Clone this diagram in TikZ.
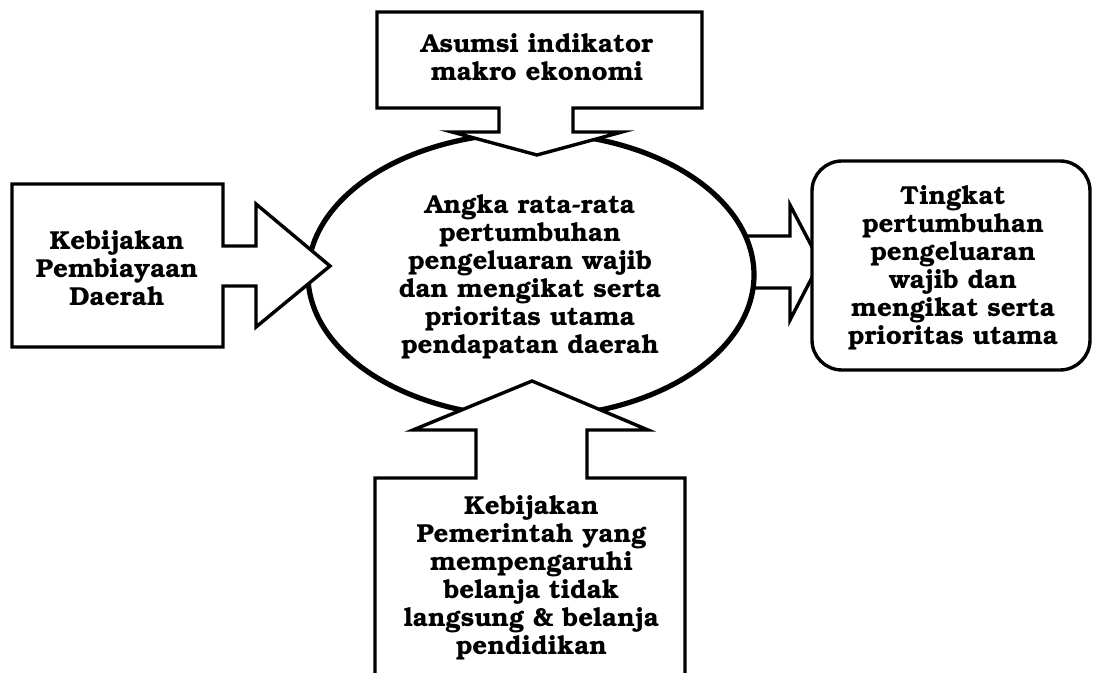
\documentclass[tikz,border=0pt]{standalone}
\usepackage[T1]{fontenc}
\usepackage{bookman}
\usetikzlibrary{shapes.geometric}
\begin{document}
\begin{tikzpicture}[x=0.5pt,y=-0.5pt,
  boxline/.style={draw=black,line width=1.7pt,fill=white,line join=miter},
  ellline/.style={draw=black,line width=2.6pt,fill=white},
  txt/.style={font=\fontsize{13}{14}\selectfont\bfseries,align=center,inner sep=0pt}]
\useasboundingbox (0,0) rectangle (1093,673);
% right outgoing arrow (under the ellipse)
\draw[boxline] (730,236) -- (790,236) -- (790,205) -- (820,262) -- (790,320) -- (790,288) -- (730,288) -- cycle;
% ellipse
\node[ellipse,ellline,minimum width=223pt,minimum height=142pt,inner sep=0pt] (ell) at (531,275) {};
% top callout
\draw[boxline] (377,12) -- (702,12) -- (702,108) -- (573,108) -- (573,132) -- (622,132) -- (537,155) -- (452,132) -- (499,132) -- (499,108) -- (377,108) -- cycle;
% left callout
\draw[boxline] (12,184) -- (223,184) -- (223,246) -- (256,246) -- (256,204) -- (330,266) -- (256,327) -- (256,286) -- (223,286) -- (223,347) -- (12,347) -- cycle;
% bottom callout (cut off by the page edge)
\fill[white] (375,673) -- (375,478) -- (476,478) -- (476,430) -- (413,430) -- (532,381) -- (648,430) -- (587,430) -- (587,478) -- (685,478) -- (685,673) -- cycle;
\draw[line width=1.7pt,line join=miter] (375,673) -- (375,478) -- (476,478) -- (476,430) -- (413,430) -- (532,381) -- (648,430) -- (587,430) -- (587,478) -- (685,478) -- (685,673);
% right rounded box
\node[draw=black,line width=1.7pt,fill=white,rounded corners=15pt,minimum width=139pt,minimum height=104.5pt,inner sep=0pt] (res) at (951,265.5) {};
% texts
\node[txt] (ttop) at (537,57) {Asumsi indikator\\makro ekonomi};
\node[txt] (tell) at (530,277) {Angka rata-rata\\pertumbuhan\\pengeluaran wajib\\dan mengikat serta\\prioritas utama\\pendapatan daerah};
\node[txt] (tleft) at (117,268) {Kebijakan\\Pembiayaan\\Daerah};
\node[txt] (tres) at (953,267.5) {Tingkat\\pertumbuhan\\pengeluaran\\wajib dan\\mengikat serta\\prioritas utama};
\node[txt] (tbot) at (531.5,578) {Kebijakan\\Pemerintah yang\\mempengaruhi\\belanja tidak\\langsung \& belanja\\pendidikan};
\end{tikzpicture}
\end{document}
